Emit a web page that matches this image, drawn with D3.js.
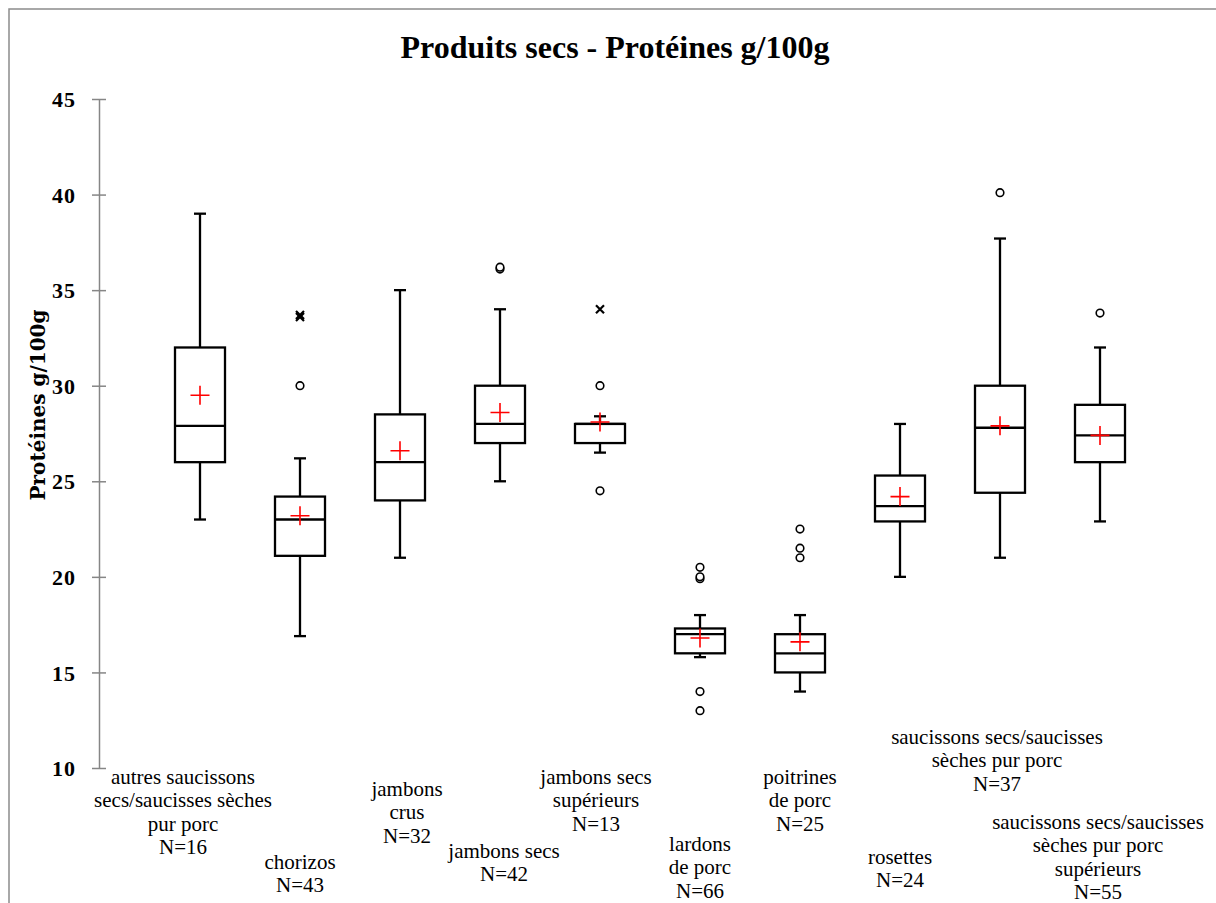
<!DOCTYPE html>
<html>
<head>
<meta charset="utf-8">
<script src="https://cdn.jsdelivr.net/npm/d3@7"></script>
<style>
  body { margin: 0; background: #fff; }
  svg { display: block; }
</style>
</head>
<body>
<svg id="chart" width="1216" height="903"></svg>
<script>
// ---- data -------------------------------------------------------------
const categories = [
  "autres saucissons secs/saucisses sèches pur porc",
  "chorizos",
  "jambons crus",
  "jambons secs",
  "jambons secs supérieurs",
  "lardons de porc",
  "poitrines de porc",
  "rosettes",
  "saucissons secs/saucisses sèches pur porc",
  "saucissons secs/saucisses sèches pur porc supérieurs"
];
const labelLines = [
  ["autres saucissons", "secs/saucisses sèches", "pur porc", "N=16"],
  ["chorizos", "N=43"],
  ["jambons", "crus", "N=32"],
  ["jambons secs", "N=42"],
  ["jambons secs", "supérieurs", "N=13"],
  ["lardons", "de porc", "N=66"],
  ["poitrines", "de porc", "N=25"],
  ["rosettes", "N=24"],
  ["saucissons secs/saucisses", "sèches pur porc", "N=37"],
  ["saucissons secs/saucisses", "sèches pur porc", "supérieurs", "N=55"]
];
const whiskerLow  = [23.0, 16.9, 21.0, 25.0, 26.5, 15.8, 14.0, 20.0, 21.0, 22.9];
const q1          = [26.0, 21.1, 24.0, 27.0, 27.0, 16.0, 15.0, 22.9, 24.4, 26.0];
const median      = [27.9, 23.0, 26.0, 28.0, 28.0, 17.0, 16.0, 23.7, 27.8, 27.4];
const q3          = [32.0, 24.2, 28.5, 30.0, 28.0, 17.3, 17.0, 25.3, 30.0, 29.0];
const whiskerHigh = [39.0, 26.2, 35.0, 34.0, 28.4, 18.0, 18.0, 28.0, 37.7, 32.0];
const means       = [29.5, 23.2, 26.6, 28.6, 28.1, 16.8, 16.6, 24.2, 27.9, 27.4];
const outliers    = [[], [30.0], [], [36.1, 36.2], [30.0, 24.5],
                     [20.5, 19.9, 20.0, 14.0, 13.0], [22.5, 21.5, 21.0], [], [40.1], [33.8]];
const extremes    = [[], [33.6, 33.7], [], [], [34.0], [], [], [], [], []];
const yTicks = [10, 15, 20, 25, 30, 35, 40, 45];

// ---- layout -----------------------------------------------------------
const W = 1216, H = 903;
const serif = "'Liberation Serif', 'DejaVu Serif', serif";
const wideSerif = "'DejaVu Serif', 'Liberation Serif', serif";
const svg = d3.select("#chart");

const y = d3.scaleLinear().domain([10, 45]).range([768, 99]);
const x = d3.scalePoint().domain(categories).range([200, 1100]);
const boxW = 50, capW = 12;

// outer frame
svg.append("rect")
  .attr("x", 9).attr("y", 9).attr("width", W + 20).attr("height", H + 20)
  .attr("fill", "none").attr("stroke", "#8c8c8c").attr("stroke-width", 1.5);

// title
svg.append("text")
  .attr("x", 615).attr("y", 58)
  .attr("text-anchor", "middle")
  .style("font-family", serif).style("font-weight", "bold").style("font-size", "32px")
  .text("Produits secs - Protéines g/100g");

// y axis
const yAxis = svg.append("g")
  .attr("transform", "translate(99,0)")
  .call(d3.axisLeft(y).tickValues(yTicks).tickSizeInner(7).tickSizeOuter(0).tickPadding(16));
yAxis.select(".domain").attr("stroke", "#868686").attr("stroke-width", 1.5);
yAxis.selectAll(".tick line").attr("x1", -7).attr("x2", 7)
  .attr("stroke", "#868686").attr("stroke-width", 1.5);
yAxis.selectAll(".tick text")
  .style("font-family", serif).style("font-weight", "bold").style("font-size", "22px")
  .style("letter-spacing", "1px")
  .attr("dy", "0.35em")
  .attr("fill", "#000");

svg.append("text")
  .attr("transform", "translate(45,405) rotate(-90)")
  .attr("text-anchor", "middle")
  .style("font-family", wideSerif).style("font-weight", "bold").style("font-size", "20px")
  .text("Protéines g/100g");

// boxes
const g = svg.append("g");
categories.forEach((c, i) => {
  const cx = x(c);
  const box = g.append("g");
  // whiskers
  box.append("line").attr("x1", cx).attr("x2", cx)
    .attr("y1", y(q3[i])).attr("y2", y(whiskerHigh[i]));
  box.append("line").attr("x1", cx).attr("x2", cx)
    .attr("y1", y(q1[i])).attr("y2", y(whiskerLow[i]));
  [whiskerHigh[i], whiskerLow[i]].forEach(v => {
    box.append("line").attr("x1", cx - capW / 2).attr("x2", cx + capW / 2)
      .attr("y1", y(v)).attr("y2", y(v));
  });
  // box and median
  box.append("rect")
    .attr("x", cx - boxW / 2).attr("y", y(q3[i]))
    .attr("width", boxW).attr("height", y(q1[i]) - y(q3[i]))
    .attr("fill", "none");
  box.append("line").attr("x1", cx - boxW / 2).attr("x2", cx + boxW / 2)
    .attr("y1", y(median[i])).attr("y2", y(median[i]));
  box.selectAll("line, rect").attr("stroke", "#000").attr("stroke-width", 2.3);

  // outliers
  outliers[i].forEach(v => {
    box.append("circle").attr("cx", cx).attr("cy", y(v)).attr("r", 3.8)
      .attr("fill", "#fff").attr("stroke", "#000").attr("stroke-width", 1.6);
  });
  extremes[i].forEach(v => {
    const s = 4;
    box.append("path")
      .attr("d", `M${cx - s},${y(v) - s}L${cx + s},${y(v) + s}M${cx + s},${y(v) - s}L${cx - s},${y(v) + s}`)
      .attr("stroke", "#000").attr("stroke-width", 2.2);
  });

  // mean
  const my = y(means[i]), m = 9.5;
  box.append("path")
    .attr("d", `M${cx - m},${my}H${cx + m}M${cx},${my - m}V${my + m}`)
    .attr("stroke", "#ff0000").attr("stroke-width", 1.6);
});

// category labels, staggered beneath the axis
const labelTop = [777, 862, 789, 851, 777, 844, 777, 857, 737, 822];
const labelShift = [-17, 0, 7, 4, -4, 0, 0, 0, -3, -2];
const lineH = 23.5;
categories.forEach((c, i) => {
  const t = svg.append("text")
    .attr("text-anchor", "middle")
    .style("font-family", serif).style("font-size", "21px");
  labelLines[i].forEach((ln, k) => {
    t.append("tspan")
      .attr("x", x(c) + labelShift[i])
      .attr("y", labelTop[i] + k * lineH)
      .attr("dy", "0.33em")
      .text(ln);
  });
});
</script>
</body>
</html>
